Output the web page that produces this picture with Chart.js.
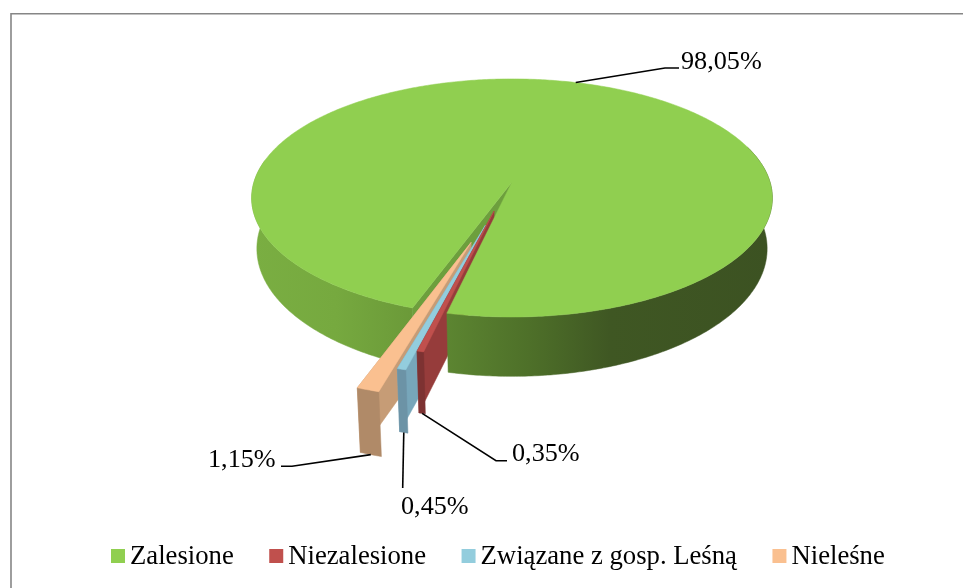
<!DOCTYPE html>
<html>
<head>
<meta charset="utf-8">
<style>
  html, body { margin: 0; padding: 0; background: #fff; }
  canvas { display: block; }
</style>
<script src="https://cdn.jsdelivr.net/npm/chart.js@4"></script>
</head>
<body>
<canvas id="forest-chart" width="963" height="588"></canvas>
<script>
var categories = ['Zalesione', 'Niezalesione', 'Związane z gosp. Leśną', 'Nieleśne'];
var shares = [98.05, 0.35, 0.45, 1.15];
var shareLabels = ['98,05%', '0,35%', '0,45%', '1,15%'];

// slice explosion in percent of the radius, like the spreadsheet option
var explode = [20, 5, 16.5, 30.5];
var topColors = ['#90CF50', '#C0504D', '#93CDDD', '#FAC090'];
var rimColors = ['#6fa53c', '#7d3232', '#6c93a6', '#b08a68'];
var cutColors = ['#6d9f3d', '#963c3b', '#77a6ba', '#c69c76'];

// where each label text sits and where its leader bends
var labelPlaces = [
  { x: 681, y: 69, bend: [[665, 68], [679, 68]] },
  { x: 512, y: 461, bend: [[496, 460.7], [507, 460.7]] },
  { x: 401, y: 514, bend: [[402.7, 488]] },
  { x: 208, y: 467, bend: [[292, 466.3], [281, 466.3]] }
];

// the tilted view of the pie, plane coordinates are in radii, origin on the green apex
var view = { cx: 512, cy: 182, bx: 258, by: 116.9, p: 0.134, depth: 49.6, shrink: 0.98 };

function project(u, v, lower) {
  var d = 1 - view.p * v;
  var x = view.bx * u / d;
  var y = view.by * v / d;
  if (lower) {
    x = x * view.shrink;
    y = y + view.depth / Math.pow(d, 1.25);
  }
  return [view.cx + x, view.cy + y];
}

function planePoint(t, r, s) {
  return [r * Math.sin(t) + s.ox, -r * Math.cos(t) + s.oy];
}

function polygon(ctx, pts, fill) {
  ctx.beginPath();
  pts.forEach(function(p, i) {
    if (i === 0) ctx.moveTo(p[0], p[1]); else ctx.lineTo(p[0], p[1]);
  });
  ctx.closePath();
  ctx.fillStyle = fill;
  ctx.fill();
  ctx.strokeStyle = fill;
  ctx.lineWidth = 0.5;
  ctx.stroke();
}

function rimPoints(a, b, s, lower) {
  var pts = [];
  var n = Math.max(2, Math.ceil(Math.abs(b - a) * 90));
  for (var i = 0; i <= n; i++) {
    var p = planePoint(a + (b - a) * i / n, 1, s);
    pts.push(project(p[0], p[1], lower));
  }
  return pts;
}

function wall(a, b, s) {
  return rimPoints(a, b, s, false).concat(rimPoints(a, b, s, true).reverse());
}

function topFace(s) {
  return [project(s.ox, s.oy, false)].concat(rimPoints(s.a, s.b, s, false));
}

function cutWall(t, s) {
  var e = planePoint(t, 1, s);
  return [project(s.ox, s.oy, false), project(e[0], e[1], false), project(e[0], e[1], true), project(s.ox, s.oy, true)];
}

function wallGradient(ctx, x0, x1, stops) {
  var g = ctx.createLinearGradient(x0, 0, x1, 0);
  stops.forEach(function(s) { g.addColorStop(s[0], s[1]); });
  return g;
}

var piePlugin = {
  id: 'tiltedPie',
  beforeDraw: function(chart) {
    var ctx = chart.ctx;
    ctx.save();
    ctx.fillStyle = '#fff';
    ctx.fillRect(0, 0, chart.width, chart.height);
    ctx.strokeStyle = '#868686';
    ctx.lineWidth = 1.6;
    ctx.beginPath();
    ctx.moveTo(11, 600);
    ctx.lineTo(11, 13.8);
    ctx.lineTo(970, 13.8);
    ctx.stroke();
    ctx.restore();
  },
  beforeDatasetDraw: function(chart) {
    var ctx = chart.ctx;
    var arcs = chart.getDatasetMeta(0).data.map(function(el) {
      var a = el.startAngle + Math.PI / 2;
      var b = el.endAngle + Math.PI / 2;
      var mid = (a + b) / 2;
      var move = el.options.offset / 100;
      return { a: a, b: b, mid: mid, ox: move * Math.sin(mid), oy: -move * Math.cos(mid) };
    });
    // keep the green apex as the origin of the plane
    var baseX = arcs[0].ox;
    var baseY = arcs[0].oy;
    arcs.forEach(function(s) {
      s.ox -= baseX;
      s.oy -= baseY;
    });
    var green = arcs[0];
    var round = Math.PI * 2;

    ctx.save();
    // left part of the green rim and the cut face, they lie behind the small slices
    var leftFill = wallGradient(ctx, 252, 420, [[0, '#7aae42'], [0.5, '#76a93f'], [1, '#6a9838']]);
    polygon(ctx, wall(green.a, round * 0.78, green), leftFill);
    polygon(ctx, cutWall(green.a, green), cutColors[0]);

    // small slices, from the far left one to the right one
    [3, 2, 1].forEach(function(i) {
      var s = arcs[i];
      polygon(ctx, cutWall(s.b, s), cutColors[i]);
      polygon(ctx, wall(s.a, s.b, s), rimColors[i]);
      polygon(ctx, topFace(s), topColors[i]);
    });

    // right part of the rim and the top go over them
    var rightFill = wallGradient(ctx, 447, 773, [[0, '#5c8531'], [0.25, '#4e7029'], [0.5, '#3f5723'], [1, '#3c5222']]);
    polygon(ctx, wall(round * 1.2, green.b, green), rightFill);
    polygon(ctx, topFace(green), topColors[0]);
    ctx.restore();

    drawLabels(chart, arcs);
    drawLegend(chart);
    return false;
  }
};

function drawLabels(chart, arcs) {
  var ctx = chart.ctx;
  ctx.save();
  ctx.font = '26.2px "Liberation Serif"';
  ctx.fillStyle = '#000';
  ctx.strokeStyle = '#000';
  ctx.lineWidth = 1.6;
  ctx.textBaseline = 'alphabetic';
  arcs.forEach(function(s, i) {
    var place = labelPlaces[i];
    // green leader starts on the back of the top face, the others at the bottom of the rim
    var p = planePoint(s.mid, 1, s);
    var start = project(p[0], p[1], i !== 0);
    ctx.beginPath();
    ctx.moveTo(start[0], start[1]);
    place.bend.forEach(function(b) { ctx.lineTo(b[0], b[1]); });
    ctx.stroke();
    ctx.fillText(shareLabels[i], place.x, place.y);
  });
  ctx.restore();
}

function drawLegend(chart) {
  var ctx = chart.ctx;
  var x = 111;
  ctx.save();
  ctx.font = '26.7px "Liberation Serif"';
  ctx.textBaseline = 'alphabetic';
  categories.forEach(function(name, i) {
    ctx.fillStyle = topColors[i];
    ctx.fillRect(x, 549, 14, 14);
    ctx.fillStyle = '#000';
    ctx.fillText(name, x + 19, 564);
    x = x + 19 + ctx.measureText(name).width + 35.5;
  });
  ctx.restore();
}

var forestChart = new Chart(document.getElementById('forest-chart').getContext('2d'), {
  type: 'pie',
  data: {
    labels: categories,
    datasets: [{
      data: shares,
      backgroundColor: topColors,
      offset: explode,
      borderWidth: 0
    }]
  },
  options: {
    responsive: false,
    animation: false,
    rotation: 199.7,
    plugins: {
      legend: { display: false },
      tooltip: { enabled: false }
    }
  },
  plugins: [piePlugin]
});
</script>
</body>
</html>
